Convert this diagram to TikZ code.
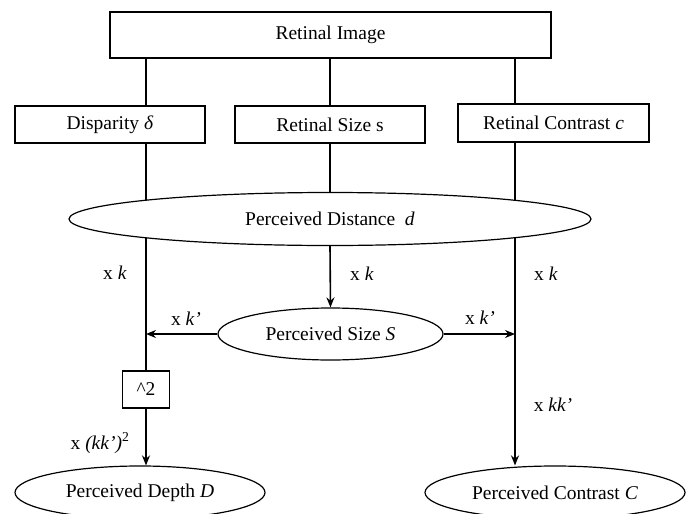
\documentclass[tikz,border=0pt]{standalone}
\usepackage{fontspec}
\setmainfont{Liberation Serif}
\usetikzlibrary{shapes.geometric,arrows.meta,backgrounds}

\tikzset{
  stagebox/.style={draw, fill=white, line width=1.2pt, inner sep=0pt},
  percept/.style={draw, fill=white, ellipse, line width=1.2pt, inner sep=0pt},
  gain/.style={inner sep=1pt},
  link/.style={line width=1.6pt}
}

\begin{document}
\begin{tikzpicture}[
        x=1pt, y=-1pt,
        >={Stealth[length=10pt,width=8pt]},
        every node/.style={font=\fontsize{19.5}{23}\selectfont}
    ]
    \useasboundingbox (0,0) rectangle (691,514);
    % column lines
    \coordinate (colL) at (146,0);
    \coordinate (colR) at (515,0);

    % Top: retinal image and its three cues
    \node[stagebox, minimum width=441pt, minimum height=46pt] (img) at (330.5,35) {Retinal Image};
    \node[stagebox, minimum width=190pt, minimum height=37pt] (disp) at (110,124.5) {Disparity \textit{δ}};
    \node[stagebox, minimum width=190pt, minimum height=37pt] (rsize) at (330,124.5) {Retinal Size s};
    \node[stagebox, minimum width=191pt, minimum height=38pt] (rcon) at (553.5,123) {Retinal Contrast \textit{c}};

    % Middle: perceived distance and size
    \node[percept, minimum width=522pt, minimum height=53pt] (dist) at (330,219) {Perceived Distance~~\textit{d}};
    \node[percept, minimum width=225pt, minimum height=52pt] (size) at (330.5,334) {Perceived Size \textit{S}};
    \node[stagebox, minimum width=47pt, minimum height=37pt] (sq) at (146,389.5) {\textasciicircum 2};

    % Bottom: perceived depth and contrast
    \node[percept, minimum width=250pt, minimum height=53pt] (depth) at (140,492.5) {Perceived Depth \textit{D}};
    \node[percept, minimum width=260pt, minimum height=53pt] (contrast) at (555,492.5) {Perceived Contrast \textit{C}};

    % Gains
    \node[gain] (kL) at (115,273) {x \textit{k}};
    \node[gain] (kM) at (362,274) {x \textit{k}};
    \node[gain] (kR) at (546,274) {x \textit{k}};
    \node[gain] (kpL) at (186,319) {x \textit{k’}};
    \node[gain] (kpR) at (480,318) {x \textit{k’}};
    \node[gain] (kkR) at (553,405) {x \textit{kk’}};
    \node[gain] (kkL) at (100,443) {x \textit{(kk’)}\textsuperscript{2}};

    % Connectors
    \begin{scope}[on background layer]
        \draw[link] (img.south -| colL) -- (disp.north -| colL);
        \draw[link] (img.south -| rsize) -- (rsize.north);
        \draw[link] (img.south -| colR) -- (rcon.north -| colR);
        \draw[link] (disp.south -| colL) -- (dist.center -| colL);
        \draw[link] (rsize.south) -- (dist.center -| rsize);
        \draw[link] (rcon.south -| colR) -- (dist.center -| colR);
        \draw[link] (dist.center -| colL) -- (sq.north);
        \draw[link,->] (dist.center -| colR) -- (contrast.north -| colR);
    \end{scope}
    \draw[link,->] (dist.south) -- (size.north);
    \draw[link,->] (size.west) -- (size.west -| colL);
    \draw[link,->] (size.east) -- (size.east -| colR);
    \draw[link,->] (sq.south) -- (depth.north -| colL);
\end{tikzpicture}
\end{document}
